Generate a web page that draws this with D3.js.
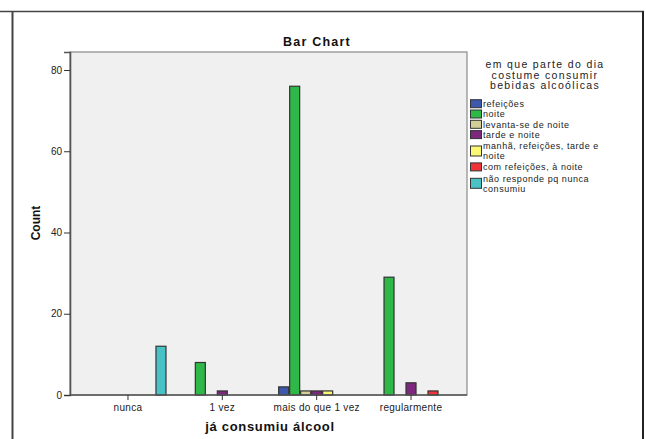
<!DOCTYPE html>
<html>
<head>
<meta charset="utf-8">
<script src="https://cdn.jsdelivr.net/npm/d3@7/dist/d3.min.js"></script>
<style>
  html, body { margin: 0; padding: 0; background: #fff; }
  svg { display: block; font-family: "Liberation Sans", Arial, sans-serif; }
</style>
</head>
<body>
<svg id="chart" width="646" height="439"></svg>
<script>
// ---- data ----
const categories = ["nunca", "1 vez", "mais do que 1 vez", "regularmente"];
const seriesNames = [
  "refeições",
  "noite",
  "levanta-se de noite",
  "tarde e noite",
  "manhã, refeições, tarde e noite",
  "com refeições, à noite",
  "não responde pq nunca consumiu"
];
const seriesColors = ["#3E58AC", "#2EB848", "#D3CE97", "#7C287D", "#FBF873", "#EF3338", "#48C2C5"];
// counts per category, one array per series (0 = no bar)
const refeicoes      = [0, 0, 2, 0];
const noite          = [0, 8, 76, 29];
const levanta        = [0, 0, 1, 0];
const tardeNoite     = [0, 1, 1, 3];
const manhaRefeicoes = [0, 0, 1, 0];
const comRefeicoes   = [0, 0, 0, 1];
const naoResponde    = [12, 0, 0, 0];
const seriesValues = [refeicoes, noite, levanta, tardeNoite, manhaRefeicoes, comRefeicoes, naoResponde];
const yTicks = [0, 20, 40, 60, 80];
const chartTitle = "Bar Chart";
const xTitle = "já consumiu álcool";
const yTitle = "Count";
const legendTitle = ["em que parte do dia", "costume consumir", "bebidas alcoólicas"];

// ---- layout ----
const svg = d3.select("#chart");
const plot = { left: 70, right: 467, top: 52, bottom: 395 };
const FONT = '"Liberation Sans", Arial, sans-serif';

// outer frame
svg.append("line").attr("x1", 0).attr("x2", 644).attr("y1", 11.5).attr("y2", 11.5)
  .attr("stroke", "#444").attr("stroke-width", 1.6);
svg.append("line").attr("x1", 12.5).attr("x2", 12.5).attr("y1", 11).attr("y2", 439)
  .attr("stroke", "#444").attr("stroke-width", 2);
svg.append("line").attr("x1", 643).attr("x2", 643).attr("y1", 11).attr("y2", 439)
  .attr("stroke", "#222").attr("stroke-width", 2);

// scales
const y = d3.scaleLinear().domain([0, 84.43]).range([plot.bottom, plot.top]);
const x0 = d3.scaleBand().domain(categories).range([plot.left, plot.right])
  .paddingInner(0.184).paddingOuter(0.196).align(0.527);
const x1 = d3.scaleBand().domain(d3.range(seriesNames.length)).range([0, x0.bandwidth()]).padding(0);

// plot background
svg.append("rect")
  .attr("x", plot.left).attr("y", plot.top)
  .attr("width", plot.right - plot.left).attr("height", plot.bottom - plot.top)
  .attr("fill", "#F0F0F0").attr("stroke", "#8a8a8a").attr("stroke-width", 1.2);

// title
svg.append("text").attr("x", 317).attr("y", 46)
  .attr("text-anchor", "middle").attr("font-size", 12.5).attr("font-weight", "bold")
  .attr("letter-spacing", 1.2).attr("fill", "#111").text(chartTitle);

// bars
const barData = [];
seriesValues.forEach((vals, si) => {
  vals.forEach((v, ci) => { if (v > 0) barData.push({ s: si, c: categories[ci], v }); });
});
svg.append("g").selectAll("rect").data(barData).join("rect")
  .attr("x", d => x0(d.c) + x1(d.s) + 0.5)
  .attr("y", d => y(d.v))
  .attr("width", x1.bandwidth() - 1)
  .attr("height", d => y(0) - y(d.v))
  .attr("fill", d => seriesColors[d.s])
  .attr("stroke", "#333").attr("stroke-width", 1.2);

// y axis
const yAxis = svg.append("g").attr("transform", `translate(${plot.left},0)`)
  .call(d3.axisLeft(y).tickValues(yTicks).tickSize(6).tickPadding(2));
yAxis.select(".domain").attr("stroke", "#555").attr("stroke-width", 1.6);
yAxis.selectAll(".tick line").attr("stroke", "#333").attr("stroke-width", 1);
yAxis.selectAll(".tick text").attr("font-size", 10).attr("font-family", FONT).attr("fill", "#222");

// x axis
const xAxis = svg.append("g").attr("transform", `translate(0,${plot.bottom})`)
  .call(d3.axisBottom(x0).tickSize(5).tickPadding(4));
xAxis.select(".domain").attr("stroke", "#555").attr("stroke-width", 1.6)
  .attr("d", `M${plot.left},0H${plot.right}`);
xAxis.selectAll(".tick line").attr("stroke", "#333").attr("stroke-width", 1);
xAxis.selectAll(".tick text").attr("font-size", 10).attr("font-family", FONT)
  .attr("letter-spacing", 0.3).attr("fill", "#222");

// axis titles
svg.append("text").attr("x", 270).attr("y", 431).attr("text-anchor", "middle")
  .attr("font-size", 13).attr("font-weight", "bold").attr("letter-spacing", 0.7)
  .attr("fill", "#111").text(xTitle);
svg.append("text").attr("transform", "translate(40,223) rotate(-90)")
  .attr("text-anchor", "middle").attr("font-size", 12).attr("font-weight", "bold")
  .attr("fill", "#111").text(yTitle);

// legend
const lg = svg.append("g");
legendTitle.forEach((t, i) => {
  lg.append("text").attr("x", 545).attr("y", 68 + i * 10.5)
    .attr("text-anchor", "middle").attr("font-size", 10.5).attr("letter-spacing", 1.35)
    .attr("fill", "#222").text(t);
});

const LFS = 9, LLS = 0.55;
function wrapWords(text, maxW) {
  const meas = svg.append("text").attr("font-size", LFS).attr("letter-spacing", LLS).attr("font-family", FONT);
  const words = text.split(" ");
  const lines = [];
  let cur = "";
  words.forEach(w => {
    const test = cur ? cur + " " + w : w;
    meas.text(test);
    if (meas.node().getComputedTextLength() > maxW && cur) { lines.push(cur); cur = w; }
    else cur = test;
  });
  if (cur) lines.push(cur);
  meas.remove();
  return lines;
}

let cursor = 107;
seriesNames.forEach((name, i) => {
  const lines = wrapWords(name, 122);
  const multi = lines.length > 1;
  if (multi && i > 0) cursor += 1;
  const first = cursor;
  const lineH = 10.2;
  const last = first + (lines.length - 1) * lineH;
  const mid = (first + last) / 2 - 3.3;
  const sh = multi ? 10 : 8;
  lg.append("rect").attr("x", 470.5).attr("y", mid - sh / 2).attr("width", 11).attr("height", sh)
    .attr("fill", seriesColors[i]).attr("stroke", "#333").attr("stroke-width", 1);
  lines.forEach((ln, k) => {
    lg.append("text").attr("x", 483).attr("y", first + k * lineH)
      .attr("font-size", LFS).attr("letter-spacing", LLS).attr("fill", "#222").text(ln);
  });
  cursor = last + 10.3 + (multi ? 0.5 : 0);
});
</script>
</body>
</html>
